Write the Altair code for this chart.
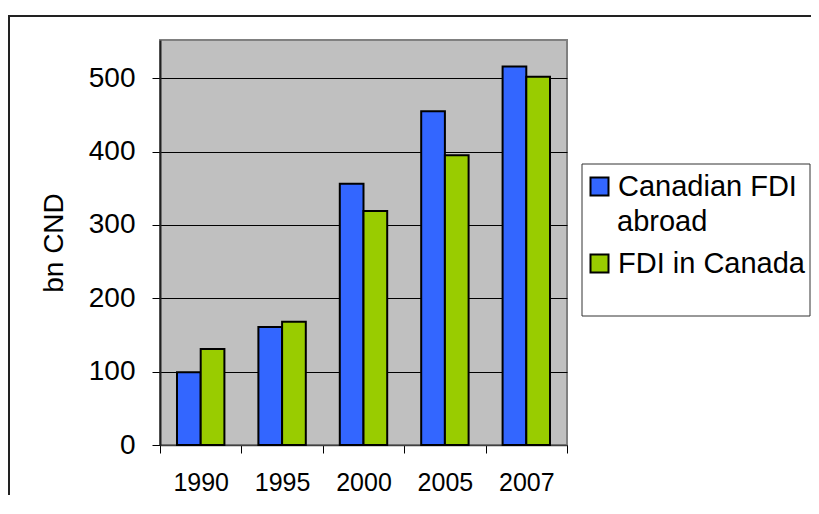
import altair as alt
import pandas as pd

years = ["1990", "1995", "2000", "2005", "2007"]
series_names = ["Canadian FDI abroad", "FDI in Canada"]
canadian_abroad = [99, 161, 356, 455, 516]
fdi_in_canada = [131, 168, 319, 395, 502]
y_ticks = [0, 100, 200, 300, 400, 500]
colors = ["#3366FF", "#99CC00"]

rows = []
for i, yr in enumerate(years):
    rows.append({"year": yr, "series": series_names[0], "value": canadian_abroad[i]})
    rows.append({"year": yr, "series": series_names[1], "value": fdi_in_canada[i]})
df = pd.DataFrame(rows)

W, H = 407, 405
FONT = "Liberation Sans"

bars = alt.Chart(df).mark_bar(stroke="black", strokeWidth=2).encode(
    x=alt.X("year:N", sort=years, title=None,
            scale=alt.Scale(paddingInner=0, paddingOuter=0),
            axis=alt.Axis(labelAngle=0, labelFontSize=25, labelColor="black",
                          tickBand="extent", tickSize=8, tickColor="black",
                          domainColor="#404040", domainWidth=1.5, grid=False,
                          labelPadding=17)),
    xOffset=alt.XOffset("series:N", sort=series_names,
                        scale=alt.Scale(paddingInner=0, paddingOuter=0.717)),
    y=alt.Y("value:Q", title="bn CND",
            scale=alt.Scale(domain=[0, 552], nice=False),
            axis=alt.Axis(values=y_ticks, labelFontSize=28, labelColor="black",
                          tickSize=8, tickColor="black", domainColor="#202020",
                          domainWidth=2, gridColor="black", gridWidth=1,
                          labelPadding=17, titleFontSize=28,
                          titleFontWeight="normal", titleColor="black",
                          titlePadding=20)),
    color=alt.Color("series:N", sort=series_names,
                    scale=alt.Scale(domain=series_names, range=colors),
                    legend=alt.Legend(
                        orient="none", legendX=425, legendY=132, title=None,
                        labelFontSize=29, labelColor="black", labelLimit=400,
                        symbolType="square", symbolSize=324,
                        symbolStrokeColor="black", symbolStrokeWidth=2,
                        labelOffset=4, rowPadding=47, padding=0,
                        labelExpr="datum.label == 'Canadian FDI abroad' ? 'Canadian FDI' : datum.label")),
)

# second line of the first legend label
legend_wrap = alt.Chart(alt.Data(values=[{"t": "abroad"}])).mark_text(
    fontSize=29, align="left", baseline="alphabetic", color="black"
).encode(text="t:N", x=alt.value(457), y=alt.value(191))

frame = alt.Chart(alt.Data(values=[{}])).mark_rect(
    fillOpacity=0, stroke="#222222", strokeWidth=2
).encode(x=alt.value(-151), x2=alt.value(720), y=alt.value(-24), y2=alt.value(520))

legend_box = alt.Chart(alt.Data(values=[{}])).mark_rect(
    fill="white", stroke="#333333", strokeWidth=1
).encode(x=alt.value(422), x2=alt.value(650), y=alt.value(124), y2=alt.value(276))

chart = alt.layer(frame, legend_box, bars, legend_wrap).properties(
    width=W, height=H,
    autosize=alt.AutoSizeParams(type="none"),
    padding={"left": 152, "top": 32, "right": 244, "bottom": 50},
).configure(
    font=FONT
).configure_view(
    fill="#C0C0C0", stroke="#808080", strokeWidth=2
)

chart.save("out.html", embed_options={"renderer": "svg", "actions": False})
